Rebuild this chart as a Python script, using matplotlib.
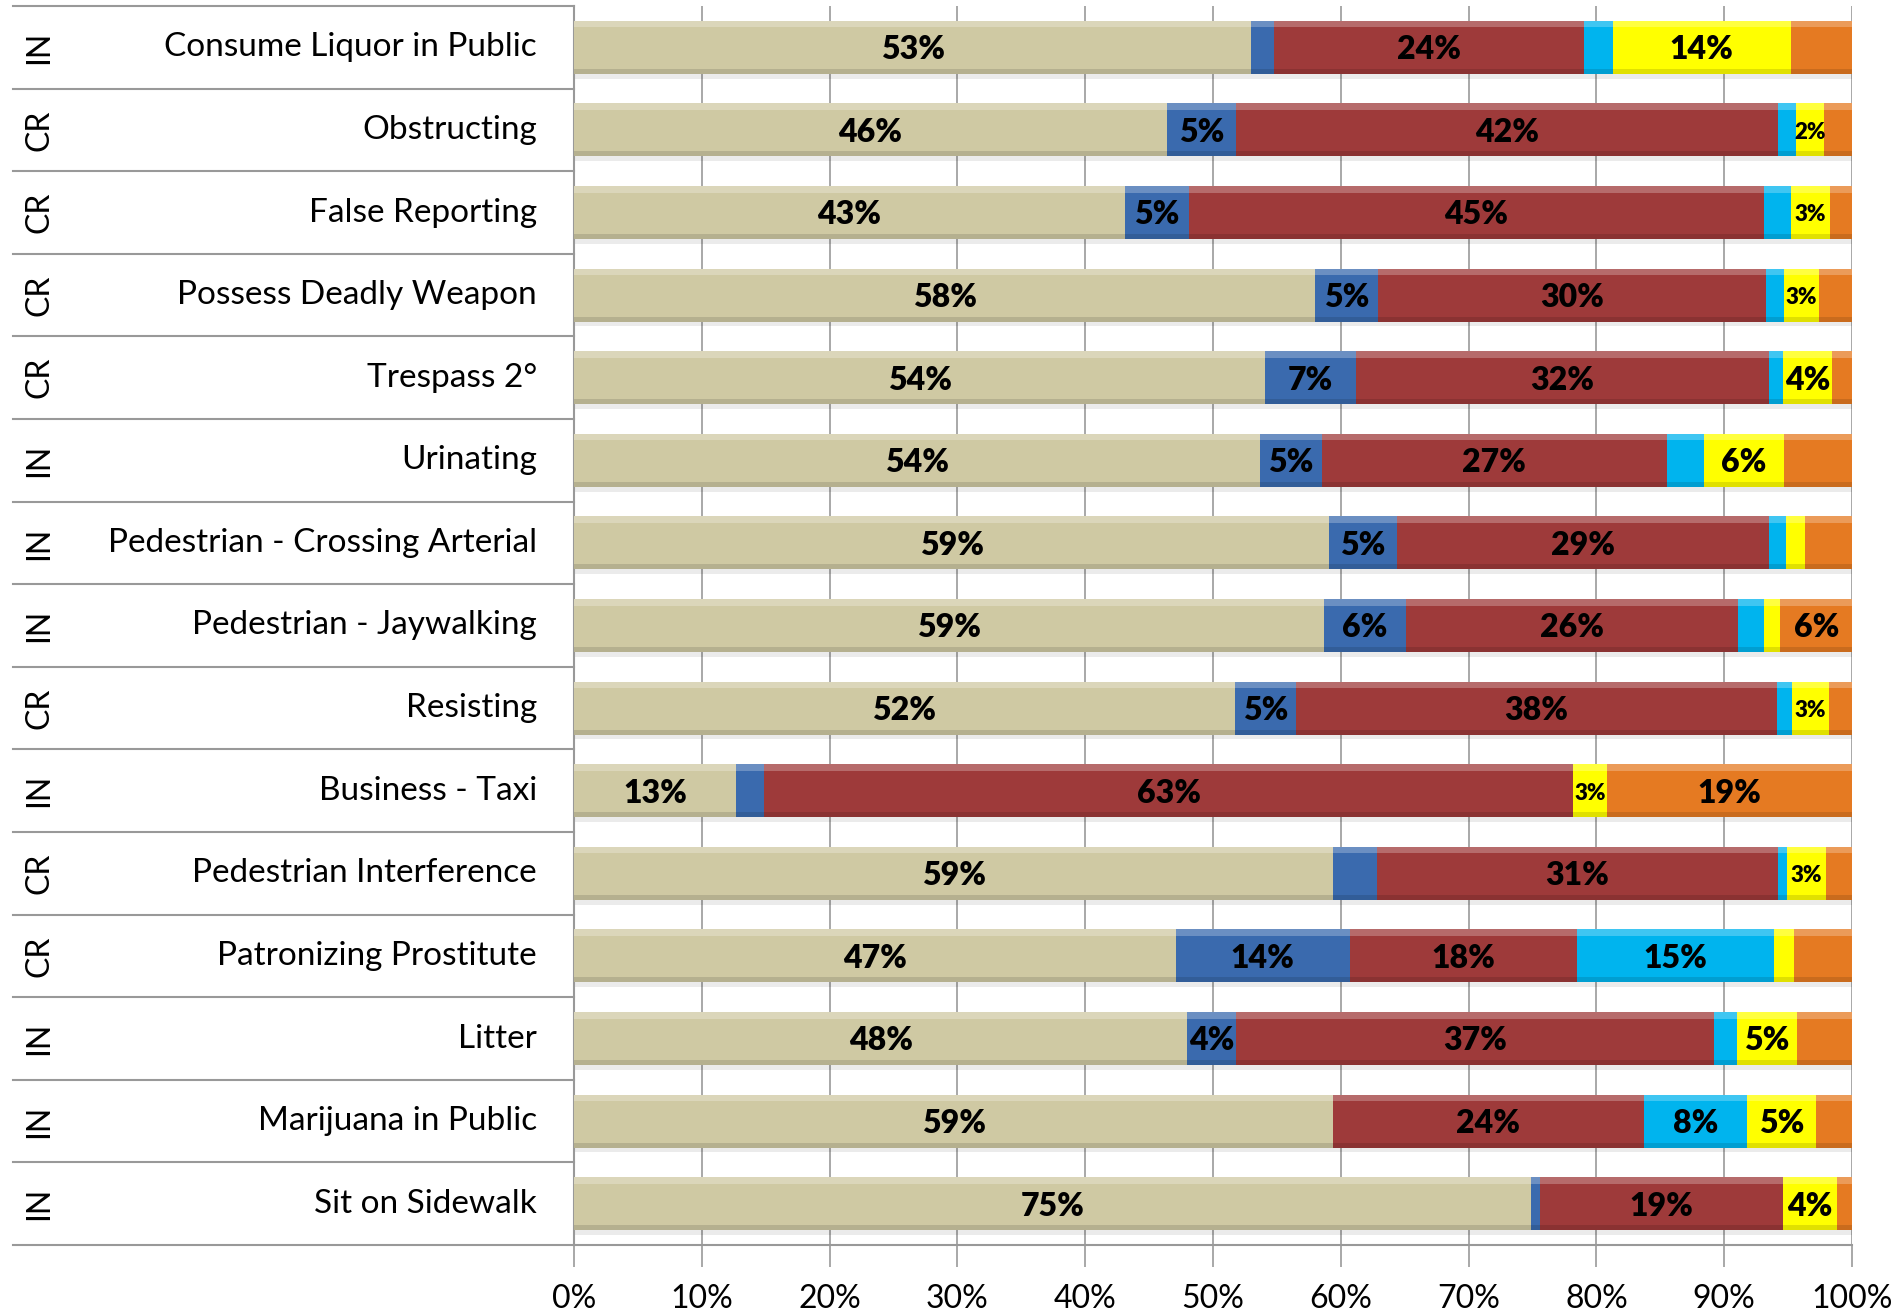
import numpy as np
import matplotlib
matplotlib.use("Agg")
import matplotlib.pyplot as plt
from matplotlib import font_manager

categories = ["Consume Liquor in Public", "Obstructing", "False Reporting",
              "Possess Deadly Weapon", "Trespass 2°", "Urinating",
              "Pedestrian - Crossing Arterial", "Pedestrian - Jaywalking",
              "Resisting", "Business - Taxi", "Pedestrian Interference",
              "Patronizing Prostitute", "Litter", "Marijuana in Public",
              "Sit on Sidewalk"]
groups = ["IN", "CR", "CR", "CR", "CR", "IN", "IN", "IN", "CR", "IN",
          "CR", "CR", "IN", "IN", "IN"]

beige = [53.0, 46.4, 43.1, 58.0, 54.1, 53.7, 59.1, 58.7, 51.7, 12.7, 59.4, 47.1, 48.0, 59.4, 74.9]
blue = [1.8, 5.4, 5.0, 4.9, 7.1, 4.8, 5.3, 6.4, 4.8, 2.2, 3.4, 13.6, 3.8, 0.0, 0.7]
red = [24.2, 42.4, 45.0, 30.4, 32.3, 27.0, 29.1, 26.0, 37.6, 63.3, 31.4, 17.8, 37.4, 24.3, 19.0]
cyan = [2.3, 1.4, 2.1, 1.4, 1.1, 2.9, 1.3, 2.0, 1.2, 0.0, 0.7, 15.4, 1.8, 8.1, 0.0]
yellow = [13.9, 2.2, 3.1, 2.7, 3.8, 6.3, 1.5, 1.3, 2.9, 2.6, 3.1, 1.6, 4.7, 5.4, 4.2]
orange = [4.8, 2.2, 1.7, 2.6, 1.6, 5.3, 3.7, 5.6, 1.8, 19.2, 2.0, 4.5, 4.3, 2.8, 1.2]

# which segments carry a data label
show_beige = [1] * 15
show_blue = [0, 1, 1, 1, 1, 1, 1, 1, 1, 0, 0, 1, 1, 0, 0]
show_red = [1] * 15
show_cyan = [0, 0, 0, 0, 0, 0, 0, 0, 0, 0, 0, 1, 0, 1, 0]
show_yellow = [1, 1, 1, 1, 1, 1, 0, 0, 1, 1, 1, 0, 1, 1, 1]
show_orange = [0, 0, 0, 0, 0, 0, 0, 1, 0, 1, 0, 0, 0, 0, 0]

xticks = [0, 10, 20, 30, 40, 50, 60, 70, 80, 90, 100]

series = [beige, blue, red, cyan, yellow, orange]
shows = [show_beige, show_blue, show_red, show_cyan, show_yellow, show_orange]
colors = ["#CFC9A3", "#3A6AAE", "#9E3A3A", "#00B4EE", "#FFFF00", "#E57A22"]

names = {f.name for f in font_manager.fontManager.ttflist}
base_font = "Lato" if "Lato" in names else "DejaVu Sans"
plt.rcParams["font.family"] = [base_font, "DejaVu Sans"]

W, H = 1901, 1311
fig = plt.figure(figsize=(W / 100, H / 100), dpi=100)
x0, x1, ytop, ybot = 574, 1852, 6, 1245
ax = fig.add_axes([x0 / W, (H - ybot) / H, (x1 - x0) / W, (ybot - ytop) / H])

n = len(categories)
y = np.arange(n)
bh = 0.64
left = np.zeros(n)
for vals, show, col in zip(series, shows, colors):
    vals = np.array(vals)
    # soft shadow under the bar
    ax.barh(y + 0.06, vals, left=left, height=bh, color="#000000", alpha=0.08,
            linewidth=0, zorder=2)
    ax.barh(y, vals, left=left, height=bh, color=col, linewidth=0, zorder=3)
    # bevel highlight / shade
    ax.barh(y - bh / 2 + 0.04, vals, left=left, height=0.08, color="white",
            alpha=0.25, linewidth=0, zorder=4)
    ax.barh(y + bh / 2 - 0.03, vals, left=left, height=0.06, color="black",
            alpha=0.12, linewidth=0, zorder=4)
    for i in range(n):
        if show[i] and vals[i] > 0:
            fs = 16 if vals[i] < 3.5 else 23
            ax.text(left[i] + vals[i] / 2, y[i] + 0.03, f"{vals[i]:.0f}%",
                    ha="center", va="center", fontsize=fs, fontweight="heavy",
                    zorder=5)
    left += vals

ax.set_xlim(0, 100)
ax.set_ylim(n - 0.5, -0.5)
ax.set_xticks(xticks)
ax.set_xticklabels([f"{t}%" for t in xticks], fontsize=23)
ax.set_yticks([])
ax.xaxis.grid(True, color="#999999", linewidth=1.2, zorder=0)
ax.set_axisbelow(True)
ax.tick_params(axis="x", length=16, width=1.2, color="#999999", pad=12)
for s in ["top", "right"]:
    ax.spines[s].set_visible(False)
ax.spines["left"].set_color("#999999")
ax.spines["left"].set_linewidth(1.5)
ax.spines["bottom"].set_color("#999999")
ax.spines["bottom"].set_linewidth(1.5)

# left table of categories
tr = ax.get_yaxis_transform()
xl = (13 - x0) / (x1 - x0)
for b in np.arange(n + 1) - 0.5:
    ax.plot([xl, 0], [b, b], transform=tr, color="#999999", linewidth=1.5,
            clip_on=False)
lab_x = (537 - x0) / (x1 - x0)
grp_x = (39 - x0) / (x1 - x0)
for i in range(n):
    ax.text(lab_x, y[i], categories[i], transform=tr, ha="right", va="center",
            fontsize=24)
    ax.text(grp_x, y[i], groups[i], transform=tr, ha="center", va="center",
            rotation=90, fontsize=23)

fig.savefig("out.png", dpi=100)
